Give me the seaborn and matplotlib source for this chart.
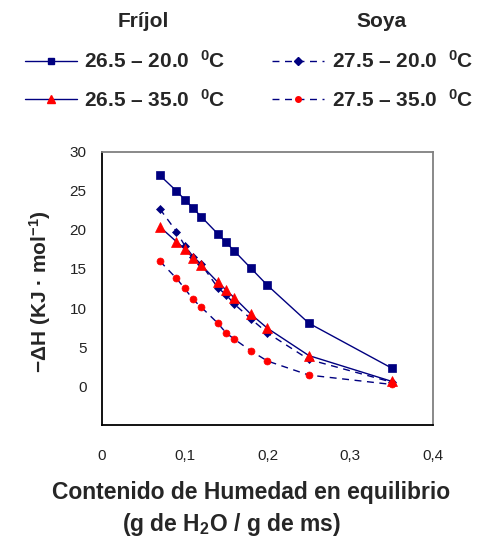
import numpy as np
import pandas as pd
import seaborn as sns
import matplotlib.pyplot as plt
from matplotlib.lines import Line2D

# moisture content (g H2O / g ms)
humedad = [0.07, 0.09, 0.10, 0.11, 0.12, 0.14, 0.15, 0.16, 0.18, 0.20, 0.25, 0.35]

# -dH (kJ/mol)
frijol_20 = [27.0, 25.0, 23.9, 22.8, 21.7, 19.5, 18.4, 17.3, 15.1, 12.9, 8.05, 2.3]
frijol_35 = [20.4, 18.5, 17.6, 16.4, 15.5, 13.3, 12.3, 11.3, 9.2, 7.4, 3.9, 0.6]
soya_20 = [22.7, 19.8, 18.0, 16.6, 15.6, 12.6, 11.7, 10.5, 8.6, 6.8, 3.4, 0.5]
soya_35 = [16.0, 13.8, 12.5, 11.1, 10.1, 8.05, 6.8, 6.0, 4.5, 3.2, 1.4, 0.2]

series_names = ['26.5 – 20.0', '26.5 – 35.0', '27.5 – 20.0', '27.5 – 35.0']
grupos = ['Fríjol', 'Fríjol', 'Soya', 'Soya']

xticks = [0, 0.1, 0.2, 0.3, 0.4]
xticklabels = ['0', '0,1', '0,2', '0,3', '0,4']
yticks = [-5, 0, 5, 10, 15, 20, 25, 30]
yticklabels = ['', '0', '5', '10', '15', '20', '25', '30']

df = pd.DataFrame({
    'humedad': humedad * 4,
    'dH': frijol_20 + frijol_35 + soya_20 + soya_35,
    'serie': np.repeat(series_names, len(humedad)),
})

sns.set_theme(style='white')
plt.rcParams['font.family'] = ['Liberation Sans', 'DejaVu Sans']
plt.rcParams['mathtext.fontset'] = 'custom'
plt.rcParams['mathtext.rm'] = 'Liberation Sans'
plt.rcParams['mathtext.bf'] = 'Liberation Sans:bold'
plt.rcParams['mathtext.default'] = 'bf'

navy = '#000080'
red = '#ff0000'
estilos = {
    '26.5 – 20.0': dict(marker='s', ms=6, mfc=navy, mec=navy, ls='-'),
    '26.5 – 35.0': dict(marker='^', ms=7.5, mfc=red, mec=red, ls='-'),
    '27.5 – 20.0': dict(marker='D', ms=4.5, mfc=navy, mec=navy, ls=(0, (5, 4))),
    '27.5 – 35.0': dict(marker='o', ms=5, mfc=red, mec=red, ls=(0, (5, 4))),
}

fig = plt.figure(figsize=(4.87, 5.39), dpi=100)
ax = fig.add_axes([0.2094, 0.2115, 0.6797, 0.5065])

for nombre in ['26.5 – 20.0', '27.5 – 20.0', '26.5 – 35.0', '27.5 – 35.0']:
    st = estilos[nombre]
    sub = df[df['serie'] == nombre]
    sns.lineplot(data=sub, x='humedad', y='dH', ax=ax, color=navy, lw=1.0,
                 linestyle=st['ls'], marker=st['marker'], markersize=st['ms'],
                 markerfacecolor=st['mfc'], markeredgecolor=st['mec'],
                 markeredgewidth=0.5, legend=False)

ax.set_xlim(0, 0.4)
ax.set_ylim(-5, 30)
ax.set_xticks(xticks)
ax.set_xticklabels(xticklabels)
ax.set_yticks(yticks)
ax.set_yticklabels(yticklabels)
ax.tick_params(axis='both', direction='out', length=5, width=1, color='black',
               labelsize=11, labelcolor='#222222', pad=6)
ax.tick_params(axis='x', pad=12)
ax.set_xlabel('')
ax.set_ylabel('−ΔH (KJ · mol$^{-1}$)', fontsize=15, fontweight='bold')
ax.yaxis.set_label_coords(-0.147, 0.49)

for s in ['left', 'bottom']:
    ax.spines[s].set_color('black')
    ax.spines[s].set_linewidth(1.3)
for s in ['top', 'right']:
    ax.spines[s].set_color('#808080')
    ax.spines[s].set_linewidth(1.3)

fig.text(0.515, 0.087, 'Contenido de Humedad en equilibrio', ha='center',
         va='center', fontsize=16.5, fontweight='bold')
fig.text(0.476, 0.026, '(g de H$_2$O / g de ms)', ha='center', va='center',
         fontsize=16.5, fontweight='bold')

# legends, one per product, titles placed as plain text
for grupo, anchor, tx in [('Fríjol', (0.023, 0.932), 0.294),
                          ('Soya', (0.531, 0.932), 0.784)]:
    fig.text(tx, 0.961, grupo, ha='center', va='center', fontsize=15,
             fontweight='bold')
    handles, labels = [], []
    for nombre, g in zip(series_names, grupos):
        if g != grupo:
            continue
        st = estilos[nombre]
        handles.append(Line2D([], [], color=navy, lw=1.0, ls=st['ls'],
                              marker=st['marker'], markersize=st['ms'] * 0.8,
                              markerfacecolor=st['mfc'], markeredgecolor=st['mec']))
        labels.append(nombre + '  $^{0}$C')
    fig.legend(handles, labels, loc='upper left',
               bbox_to_anchor=anchor, frameon=False,
               prop={'weight': 'bold', 'size': 15},
               handlelength=2.5, handletextpad=0.35, labelspacing=0.8,
               borderpad=0.15)

fig.savefig('out.png', dpi=100)
